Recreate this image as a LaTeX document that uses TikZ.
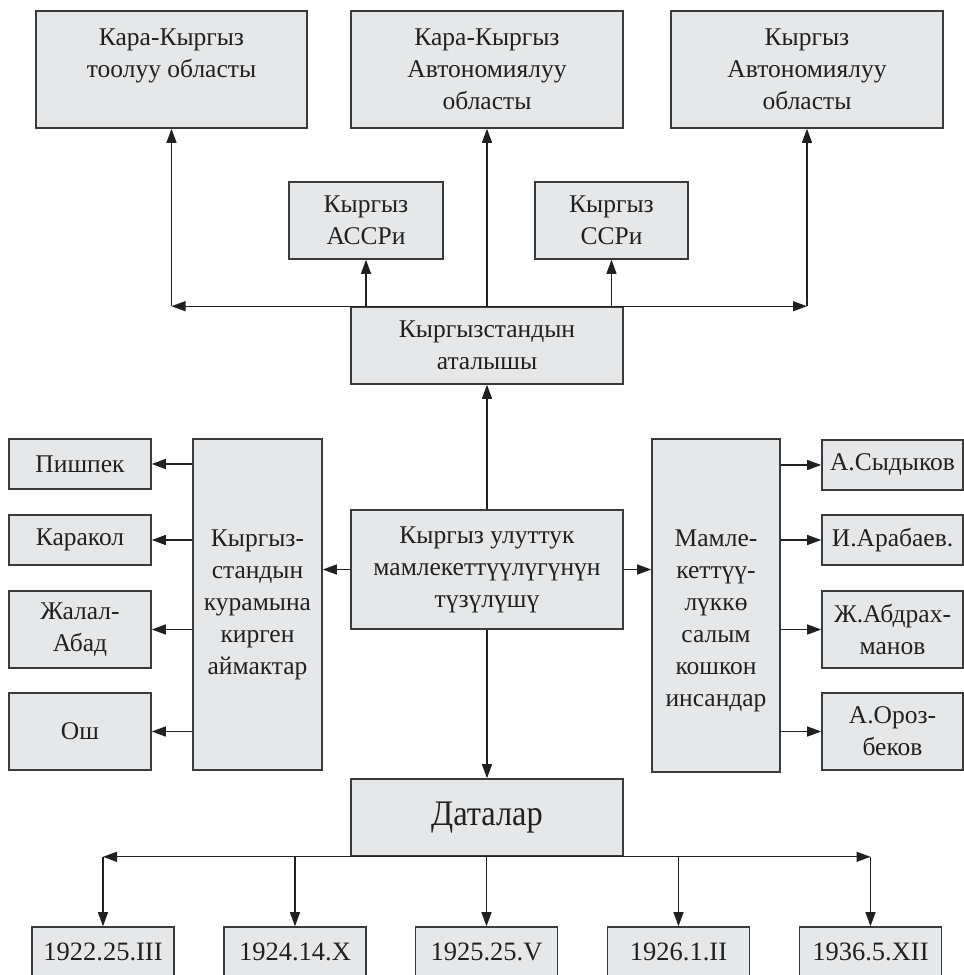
\documentclass[tikz,border=0pt]{standalone}
\usepackage{fontspec}
\setmainfont{Liberation Serif}
\newfontfamily\condfont[FakeStretch=0.9]{Liberation Serif}
\usetikzlibrary{arrows.meta}
\definecolor{boxfill}{HTML}{E6E7E8}
\definecolor{ink}{HTML}{231F20}
\definecolor{edge}{HTML}{3A3A3A}
\tikzset{
  box/.style={draw=edge, line width=1.6pt, fill=boxfill, inner sep=0pt, align=center,
    text=ink, font=\fontsize{25.5}{32}\selectfont},
  smallbox/.style={box, minimum width=142pt, minimum height=50pt},
  tallsmall/.style={box, minimum width=142pt, minimum height=77pt},
  datebox/.style={box, minimum width=142pt, minimum height=50pt, font=\fontsize{26.5}{32}\selectfont},
  arr/.style={draw=ink, line width=1.3pt, -{Triangle[length=14pt,width=10pt]}}
}
\begin{document}
\begin{tikzpicture}[x=1pt, y=-1pt]
\clip (0,0) rectangle (964,975);
\fill[white] (0,0) rectangle (964,975);

% top row
\node[box, minimum width=271pt, minimum height=117pt] (kt) at (171.5,69.5) {Кара-Кыргыз\\тоолуу областы\\\mbox{}};
\node[box, minimum width=272pt, minimum height=117pt] (kao) at (487,69.5) {Кара-Кыргыз\\Автономиялуу\\областы};
\node[box, minimum width=272pt, minimum height=117pt] (kyrao) at (807,69.5) {Кыргыз\\Автономиялуу\\областы};
\node[box, minimum width=154pt, minimum height=77pt] (assr) at (366,220.5) {Кыргыз\\АССРи};
\node[box, minimum width=153pt, minimum height=77pt] (ssr) at (611.5,220.5) {Кыргыз\\ССРи};
\node[box, minimum width=272pt, minimum height=77pt] (atal) at (487,345.5) {Кыргызстандын\\аталышы};

% middle
\node[box, minimum width=272pt, minimum height=119pt] (center) at (487,569.5) {Кыргыз улуттук\\мамлекеттүүлүгүнүн\\түзүлүшү};
\node[box, minimum width=129pt, minimum height=331pt] (regions) at (257.5,604.5) {Кыргыз-\\стандын\\курамына\\кирген\\аймактар};
\node[box, minimum width=128pt, minimum height=333pt] (persons) at (716,605.5) {\rule{0pt}{48pt}Мамле-\\кеттүү-\\лүккө\\салым\\кошкон\\инсандар};

\node[smallbox] (p1) at (80,464) {Пишпек};
\node[smallbox] (p2) at (80,540) {Каракол};
\node[tallsmall] (p3) at (80,629.5) {Жалал-\\Абад};
\node[tallsmall] (p4) at (80,731.5) {Ош};

\node[box, minimum width=141pt, minimum height=50pt] (q1) at (892.5,465) {А.Сыдыков};
\node[box, minimum width=141pt, minimum height=50pt] (q2) at (892.5,540) {И.Арабаев.};
\node[box, minimum width=141pt, minimum height=77pt] (q3) at (892.5,629.5) {Ж.Абдрах-\\манов};
\node[box, minimum width=141pt, minimum height=77pt] (q4) at (892.5,731.5) {А.Ороз-\\беков};

% bottom
\node[box, minimum width=272pt, minimum height=77pt, font=\condfont\fontsize{36}{40}\selectfont] (dat) at (487,817.5) {Даталар};
\node[datebox] (d1) at (103,952) {1922.25.III};
\node[datebox] (d2) at (295,952) {1924.14.X};
\node[datebox] (d3) at (486.5,952) {1925.25.V};
\node[datebox] (d4) at (678.5,952) {1926.1.II};
\node[datebox] (d5) at (870.5,952) {1936.5.XII};

% top connectors
\coordinate (hl) at (kt.south |- atal.north);
\coordinate (hr) at (kyrao.south |- atal.north);
\draw[arr] (atal.north) -- (hl);
\draw[arr] (atal.north) -- (hr);
\draw[arr] (hl) -- (kt.south);
\draw[arr] (hr) -- (kyrao.south);
\draw[arr] (atal.north) -- (kao.south);
\draw[arr] (assr.south |- atal.north) -- (assr.south);
\draw[arr] (ssr.south |- atal.north) -- (ssr.south);
\draw[arr] (center.north) -- (atal.south);

% middle connectors
\draw[arr] (center.west) -- (center.west -| regions.east);
\draw[arr] (center.east) -- (center.east -| persons.west);
\foreach \n in {p1,p2,p3,p4} {\draw[arr] (regions.west |- \n.east) -- (\n.east);}
\foreach \n in {q1,q2,q3,q4} {\draw[arr] (persons.east |- \n.west) -- (\n.west);}

% bottom connectors
\draw[arr] (center.south) -- (dat.north);
\coordinate (dl) at (d1.north |- dat.south);
\coordinate (dr) at (d5.north |- dat.south);
\draw[arr] (dat.south) -- (dl);
\draw[arr] (dat.south) -- (dr);
\draw[arr] (dl) -- (d1.north);
\draw[arr] (dr) -- (d5.north);
\foreach \n in {d2,d3,d4} {\draw[arr] (\n.north |- dat.south) -- (\n.north);}
\end{tikzpicture}
\end{document}
